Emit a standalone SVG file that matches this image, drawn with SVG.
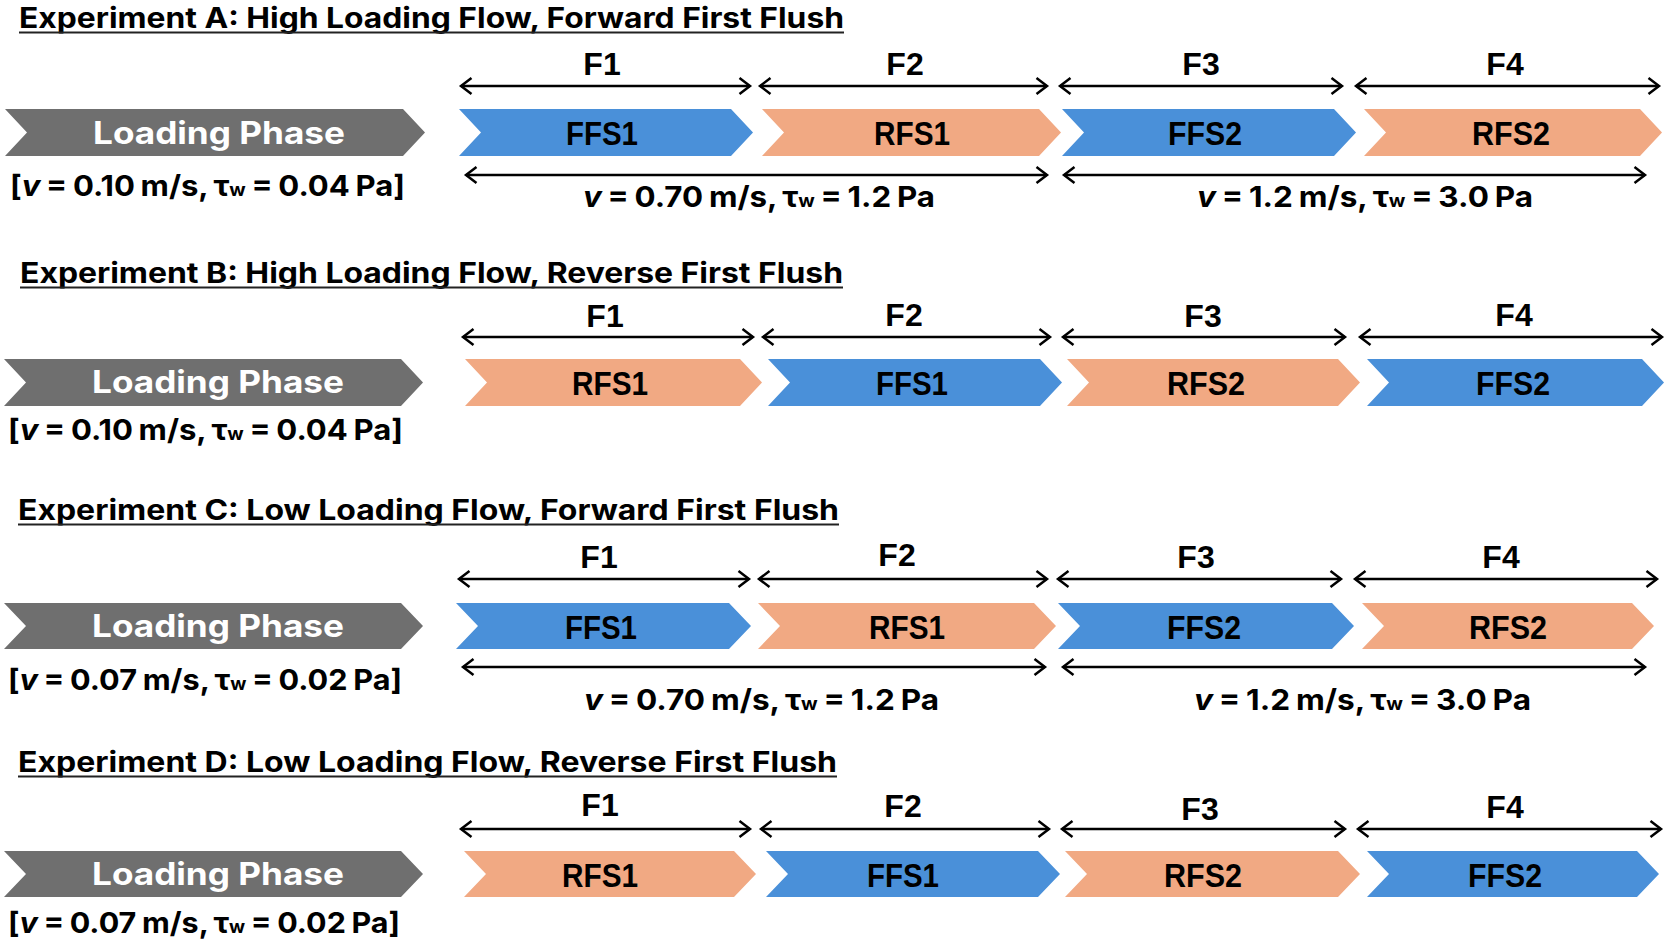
<svg xmlns="http://www.w3.org/2000/svg" width="1669" height="945" viewBox="0 0 1669 945">
<defs>
<style>
.title{font-family:Inter,"Liberation Sans",Arial,sans-serif;font-weight:700;font-size:28px;fill:#000}
.ul{stroke:#222;stroke-width:2}
.flab{font-family:"Liberation Sans",Arial,sans-serif;font-weight:700;font-size:32px;fill:#000;text-anchor:middle}
.clab{font-family:"Liberation Sans",Arial,sans-serif;font-weight:700;font-size:33px;fill:#000;text-anchor:middle}
.load{font-family:Inter,"Liberation Sans",Arial,sans-serif;font-weight:700;font-size:31px;fill:#fff}
.eq{font-family:Inter,"Liberation Sans",Arial,sans-serif;font-weight:700;font-size:29px;fill:#000;word-spacing:-1.5px}
.it{font-style:italic}
.sub{font-size:18px}
.gray{fill:#6f6f6f}
.blue{fill:#4a90d9}
.orange{fill:#f1a983}
.arr{stroke:#000;stroke-width:2.5;fill:none;marker-start:url(#ah);marker-end:url(#ah)}
</style>
<marker id="ah" viewBox="-13 -10 16 20" refX="0" refY="0" markerWidth="16" markerHeight="20" markerUnits="userSpaceOnUse" orient="auto-start-reverse">
<path d="M-10.5,-8 L0,0 L-10.5,8" fill="none" stroke="#000" stroke-width="2.5"/>
</marker>
</defs>
<rect width="1669" height="945" fill="#fff"/>

<!-- Titles -->
<g id="title-A"><text class="title" x="19" y="28" textLength="825" lengthAdjust="spacingAndGlyphs">Experiment A: High Loading Flow, Forward First Flush</text><line class="ul" x1="19" y1="32.5" x2="844" y2="32.5"/></g>
<g id="title-B"><text class="title" x="20" y="283" textLength="823" lengthAdjust="spacingAndGlyphs">Experiment B: High Loading Flow, Reverse First Flush</text><line class="ul" x1="20" y1="287.5" x2="843" y2="287.5"/></g>
<g id="title-C"><text class="title" x="18" y="520" textLength="821" lengthAdjust="spacingAndGlyphs">Experiment C: Low Loading Flow, Forward First Flush</text><line class="ul" x1="18" y1="524.5" x2="839" y2="524.5"/></g>
<g id="title-D"><text class="title" x="18" y="772" textLength="819" lengthAdjust="spacingAndGlyphs">Experiment D: Low Loading Flow, Reverse First Flush</text><line class="ul" x1="18" y1="776.5" x2="837" y2="776.5"/></g>

<!-- Connectors -->
<g id="connectors">
<line class="arr" x1="461" y1="86" x2="750" y2="86"/>
<line class="arr" x1="760" y1="86" x2="1047" y2="86"/>
<line class="arr" x1="1060" y1="86" x2="1342" y2="86"/>
<line class="arr" x1="1356" y1="86" x2="1659" y2="86"/>
<line class="arr" x1="466" y1="175" x2="1047" y2="175"/>
<line class="arr" x1="1064" y1="175" x2="1645" y2="175"/>

<line class="arr" x1="463" y1="337" x2="753" y2="337"/>
<line class="arr" x1="763" y1="337" x2="1050" y2="337"/>
<line class="arr" x1="1063" y1="337" x2="1345" y2="337"/>
<line class="arr" x1="1360" y1="337" x2="1662" y2="337"/>

<line class="arr" x1="459" y1="579" x2="749" y2="579"/>
<line class="arr" x1="759" y1="579" x2="1047" y2="579"/>
<line class="arr" x1="1058" y1="579" x2="1341" y2="579"/>
<line class="arr" x1="1355" y1="579" x2="1657" y2="579"/>
<line class="arr" x1="463" y1="667" x2="1045" y2="667"/>
<line class="arr" x1="1063" y1="667" x2="1645" y2="667"/>

<line class="arr" x1="461" y1="829" x2="750" y2="829"/>
<line class="arr" x1="761" y1="829" x2="1049" y2="829"/>
<line class="arr" x1="1062" y1="829" x2="1345" y2="829"/>
<line class="arr" x1="1358" y1="829" x2="1661" y2="829"/>
</g>

<!-- Row A -->
<g id="A-F-labels"><text class="flab" x="602" y="75">F1</text><text class="flab" x="905" y="75">F2</text><text class="flab" x="1201" y="75">F3</text><text class="flab" x="1505" y="75">F4</text></g>
<g id="A-loading"><polygon class="gray" points="5,109 403,109 425,132.5 403,156 5,156 27,132.5"/><text class="load" x="93" y="143.5" textLength="252" lengthAdjust="spacingAndGlyphs">Loading Phase</text></g>
<g id="A-loading-cond"><text class="eq" x="10" y="196" textLength="395" lengthAdjust="spacingAndGlyphs">[<tspan class="it">v</tspan> = 0.10 m/s, τ<tspan class="sub">w</tspan> = 0.04 Pa]</text></g>
<g id="A-FFS1"><polygon class="blue" points="459,109 731,109 753,132.5 731,156 459,156 481,132.5"/><text class="clab" x="602" y="145" textLength="72" lengthAdjust="spacingAndGlyphs">FFS1</text></g>
<g id="A-RFS1"><polygon class="orange" points="762,109 1039,109 1061,132.5 1039,156 762,156 784,132.5"/><text class="clab" x="912" y="145" textLength="76" lengthAdjust="spacingAndGlyphs">RFS1</text></g>
<g id="A-FFS2"><polygon class="blue" points="1062,109 1334,109 1356,132.5 1334,156 1062,156 1084,132.5"/><text class="clab" x="1205" y="145" textLength="74" lengthAdjust="spacingAndGlyphs">FFS2</text></g>
<g id="A-RFS2"><polygon class="orange" points="1364,109 1640,109 1662,132.5 1640,156 1364,156 1386,132.5"/><text class="clab" x="1511" y="145" textLength="78" lengthAdjust="spacingAndGlyphs">RFS2</text></g>
<g id="A-cond1"><text class="eq" x="583" y="207" textLength="352" lengthAdjust="spacingAndGlyphs"><tspan class="it">v</tspan> = 0.70 m/s, τ<tspan class="sub">w</tspan> = 1.2 Pa</text></g>
<g id="A-cond2"><text class="eq" x="1197" y="207" textLength="336" lengthAdjust="spacingAndGlyphs"><tspan class="it">v</tspan> = 1.2 m/s, τ<tspan class="sub">w</tspan> = 3.0 Pa</text></g>

<!-- Row B -->
<g id="B-F-labels"><text class="flab" x="605" y="327">F1</text><text class="flab" x="904" y="326">F2</text><text class="flab" x="1203" y="327">F3</text><text class="flab" x="1514" y="326">F4</text></g>
<g id="B-loading"><polygon class="gray" points="4,359 401,359 423,382.5 401,406 4,406 26,382.5"/><text class="load" x="92" y="393" textLength="252" lengthAdjust="spacingAndGlyphs">Loading Phase</text></g>
<g id="B-loading-cond"><text class="eq" x="8" y="440" textLength="395" lengthAdjust="spacingAndGlyphs">[<tspan class="it">v</tspan> = 0.10 m/s, τ<tspan class="sub">w</tspan> = 0.04 Pa]</text></g>
<g id="B-RFS1"><polygon class="orange" points="465,359 740,359 762,382.5 740,406 465,406 487,382.5"/><text class="clab" x="610" y="395" textLength="76" lengthAdjust="spacingAndGlyphs">RFS1</text></g>
<g id="B-FFS1"><polygon class="blue" points="768,359 1040,359 1062,382.5 1040,406 768,406 790,382.5"/><text class="clab" x="912" y="395" textLength="72" lengthAdjust="spacingAndGlyphs">FFS1</text></g>
<g id="B-RFS2"><polygon class="orange" points="1067,359 1338,359 1360,382.5 1338,406 1067,406 1089,382.5"/><text class="clab" x="1206" y="395" textLength="78" lengthAdjust="spacingAndGlyphs">RFS2</text></g>
<g id="B-FFS2"><polygon class="blue" points="1367,359 1642,359 1664,382.5 1642,406 1367,406 1389,382.5"/><text class="clab" x="1513" y="395" textLength="74" lengthAdjust="spacingAndGlyphs">FFS2</text></g>

<!-- Row C -->
<g id="C-F-labels"><text class="flab" x="599" y="568">F1</text><text class="flab" x="897" y="566">F2</text><text class="flab" x="1196" y="568">F3</text><text class="flab" x="1501" y="568">F4</text></g>
<g id="C-loading"><polygon class="gray" points="4,603 401,603 423,626 401,649 4,649 26,626"/><text class="load" x="92" y="636.5" textLength="252" lengthAdjust="spacingAndGlyphs">Loading Phase</text></g>
<g id="C-loading-cond"><text class="eq" x="8" y="690" textLength="394" lengthAdjust="spacingAndGlyphs">[<tspan class="it">v</tspan> = 0.07 m/s, τ<tspan class="sub">w</tspan> = 0.02 Pa]</text></g>
<g id="C-FFS1"><polygon class="blue" points="456,603 729,603 751,626 729,649 456,649 478,626"/><text class="clab" x="601" y="638.5" textLength="72" lengthAdjust="spacingAndGlyphs">FFS1</text></g>
<g id="C-RFS1"><polygon class="orange" points="758,603 1034,603 1056,626 1034,649 758,649 780,626"/><text class="clab" x="907" y="638.5" textLength="76" lengthAdjust="spacingAndGlyphs">RFS1</text></g>
<g id="C-FFS2"><polygon class="blue" points="1058,603 1332,603 1354,626 1332,649 1058,649 1080,626"/><text class="clab" x="1204" y="638.5" textLength="74" lengthAdjust="spacingAndGlyphs">FFS2</text></g>
<g id="C-RFS2"><polygon class="orange" points="1362,603 1632,603 1654,626 1632,649 1362,649 1384,626"/><text class="clab" x="1508" y="638.5" textLength="78" lengthAdjust="spacingAndGlyphs">RFS2</text></g>
<g id="C-cond1"><text class="eq" x="584" y="710" textLength="355" lengthAdjust="spacingAndGlyphs"><tspan class="it">v</tspan> = 0.70 m/s, τ<tspan class="sub">w</tspan> = 1.2 Pa</text></g>
<g id="C-cond2"><text class="eq" x="1194" y="710" textLength="337" lengthAdjust="spacingAndGlyphs"><tspan class="it">v</tspan> = 1.2 m/s, τ<tspan class="sub">w</tspan> = 3.0 Pa</text></g>

<!-- Row D -->
<g id="D-F-labels"><text class="flab" x="600" y="816">F1</text><text class="flab" x="903" y="817">F2</text><text class="flab" x="1200" y="820">F3</text><text class="flab" x="1505" y="818">F4</text></g>
<g id="D-loading"><polygon class="gray" points="4,851 401,851 423,874 401,897 4,897 26,874"/><text class="load" x="92" y="884.5" textLength="252" lengthAdjust="spacingAndGlyphs">Loading Phase</text></g>
<g id="D-loading-cond"><text class="eq" x="8" y="933" textLength="392" lengthAdjust="spacingAndGlyphs">[<tspan class="it">v</tspan> = 0.07 m/s, τ<tspan class="sub">w</tspan> = 0.02 Pa]</text></g>
<g id="D-RFS1"><polygon class="orange" points="464,851 734,851 756,874 734,897 464,897 486,874"/><text class="clab" x="600" y="886.5" textLength="76" lengthAdjust="spacingAndGlyphs">RFS1</text></g>
<g id="D-FFS1"><polygon class="blue" points="766,851 1038,851 1060,874 1038,897 766,897 788,874"/><text class="clab" x="903" y="886.5" textLength="72" lengthAdjust="spacingAndGlyphs">FFS1</text></g>
<g id="D-RFS2"><polygon class="orange" points="1065,851 1338,851 1360,874 1338,897 1065,897 1087,874"/><text class="clab" x="1203" y="886.5" textLength="78" lengthAdjust="spacingAndGlyphs">RFS2</text></g>
<g id="D-FFS2"><polygon class="blue" points="1367,851 1637,851 1659,874 1637,897 1367,897 1389,874"/><text class="clab" x="1505" y="886.5" textLength="74" lengthAdjust="spacingAndGlyphs">FFS2</text></g>
</svg>
